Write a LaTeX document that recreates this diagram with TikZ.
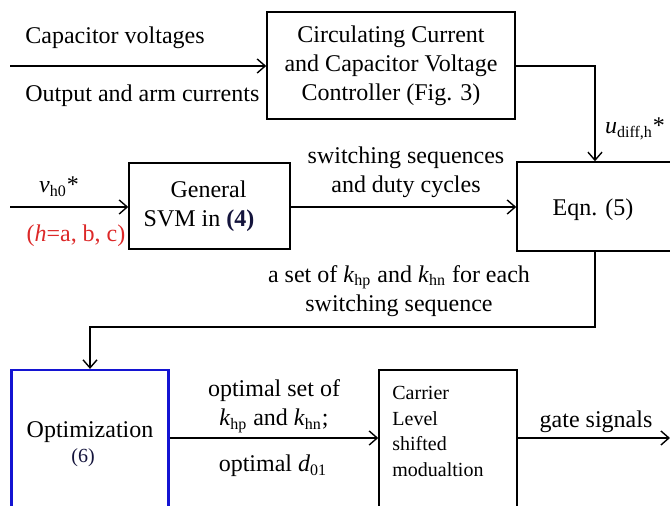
\documentclass[tikz,border=0pt]{standalone}
\usepackage{fontspec}
\setmainfont{Liberation Serif}
\usetikzlibrary{arrows.meta}
\definecolor{lblred}{RGB}{220,40,40}
\definecolor{optblue}{RGB}{20,20,210}
\definecolor{refnavy}{RGB}{20,20,60}
\begin{document}
\begin{tikzpicture}[x=0.5pt,y=-0.5pt,
  every node/.style={font=\fontsize{12}{14.5}\selectfont},
  box/.style={draw,line width=0.75pt,inner sep=0pt,align=center},
  conn/.style={line width=0.7pt,-{Straight Barb[length=4pt,width=7pt]}},
  lbl/.style={inner sep=0pt,align=center},
  small/.style={font=\fontsize{10}{12.8}\selectfont}]
\useasboundingbox (0,0) rectangle (670,506);
\clip (0,0) rectangle (670,506);

% boxes
\node[box,minimum width=124pt,minimum height=53.5pt] (ctrl) at (391,65.5)
  {Circulating Current\\and Capacitor Voltage\\Controller (Fig. 3)};
\node[box,minimum width=80.5pt,minimum height=43pt] (svm) at (209.5,206) {};
\node[box,minimum width=86.5pt,minimum height=44.5pt] (eqn) at (603.5,206.5) {};
\node[box,draw=optblue,line width=1.1pt,minimum width=78.5pt,minimum height=80pt] (opt) at (90,450) {};
\node[box,minimum width=69pt,minimum height=80pt] (car) at (448,450) {};

% box texts
\node[lbl] (svmtext) at (199,206) {\hspace*{9.5pt}General\\SVM in \textbf{\color{refnavy}(4)}};
\node[lbl] (eqntext) at (593,210) {Eqn. (5)};
\node[lbl] (opttext) at (90,432) {Optimization};
\node[lbl,small,text=refnavy] (optnum) at (83,458) {(6)};
\node[lbl,small,align=left,anchor=north west] (cartext) at (392,386)
  {Carrier\\Level\\shifted\\modualtion};

% labels
\node[lbl,anchor=west] (capv) at (25,38) {Capacitor voltages};
\node[lbl,anchor=west] (outc) at (25,96) {Output and arm currents};
\node[lbl] (udiff) at (635,129) {\textit{u}\textsubscript{diff,h}*};
\node[lbl] (vh0) at (59,187) {\textit{v}\textsubscript{h0}*};
\node[lbl,text=lblred] (hset) at (76,236) {(\textit{h}=a, b, c)};
\node[lbl] (swseq) at (406,172) {switching sequences\\and duty cycles};
\node[lbl] (kset) at (399,291) {a set of \textit{k}\textsubscript{hp} and \textit{k}\textsubscript{hn} for each\\switching sequence};
\node[lbl] (optset) at (274,406) {optimal set of\\\textit{k}\textsubscript{hp} and \textit{k}\textsubscript{hn};};
\node[lbl] (optd) at (273,466) {optimal \textit{d}\textsubscript{01}};
\node[lbl] (gate) at (596,422) {gate signals};

% connector coordinates
\coordinate (in1) at (10,66);
\coordinate (in2) at (10,207);
\coordinate (tap) at (595,0);
\coordinate (bend) at (90,327);
\coordinate (y3) at (0,438);
\coordinate (out) at (670,438);

% connectors
\draw[conn] (in1) -- (ctrl.west |- in1);
\draw[conn] (ctrl.east |- in1) -| (eqn.north -| tap);
\draw[conn] (in2) -- (svm.west |- in2);
\draw[conn] (svm.east |- in2) -- (eqn.west |- in2);
\draw[conn] (eqn.south -| tap) |- (bend) -- (opt.north);
\draw[conn] (opt.east |- y3) -- (car.west |- y3);
\draw[conn] (car.east |- y3) -- (out);
\end{tikzpicture}
\end{document}
